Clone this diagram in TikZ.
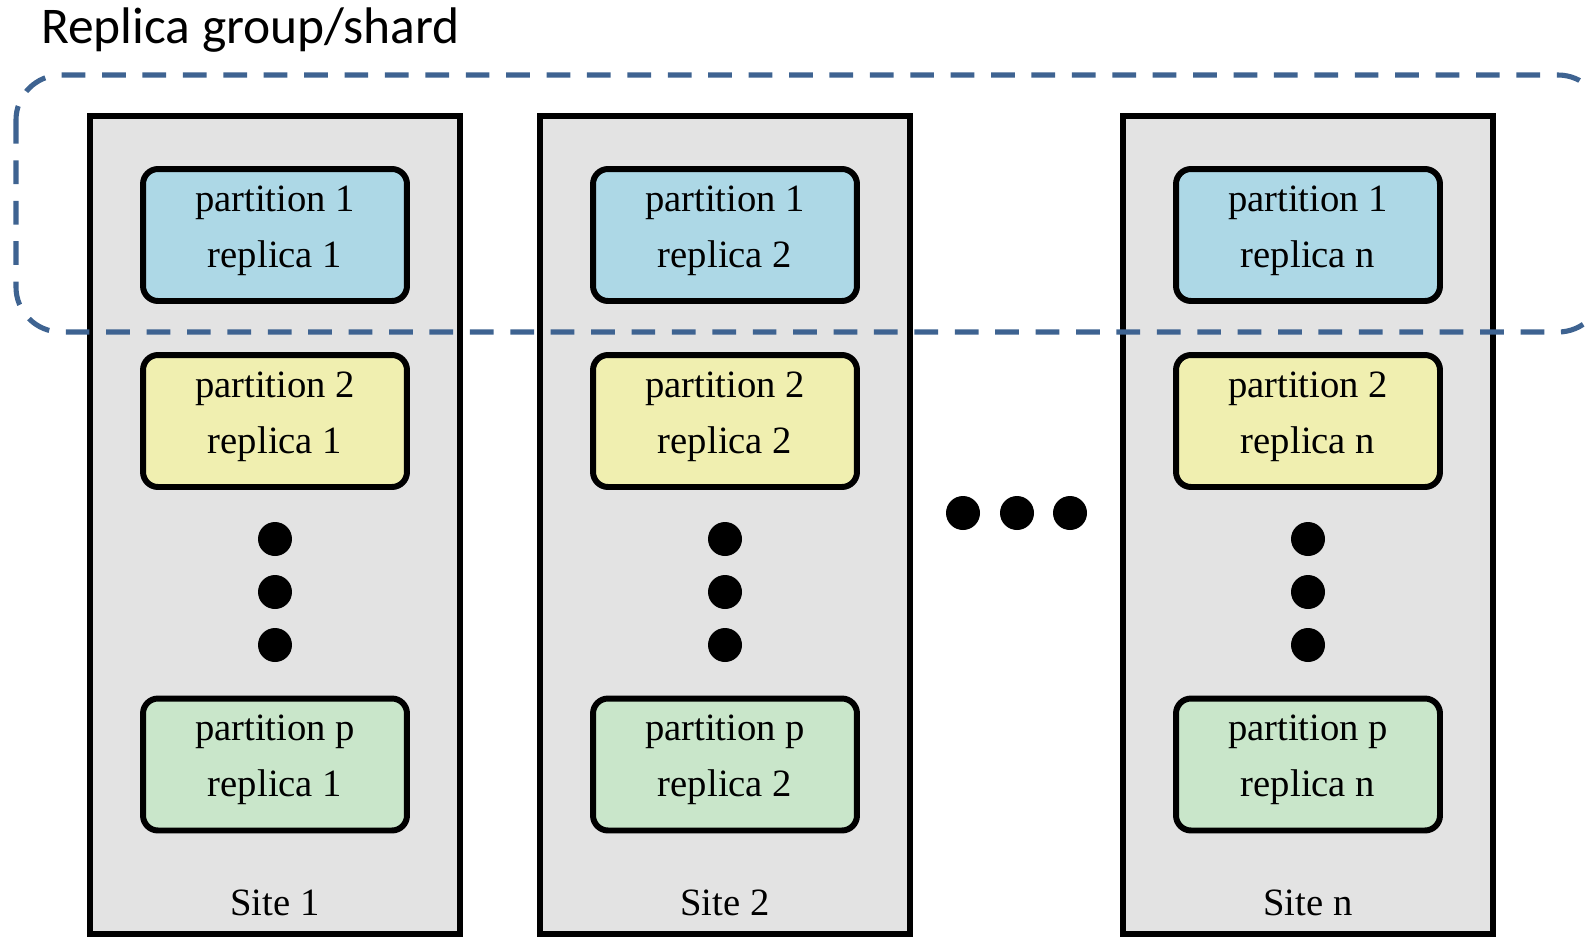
\documentclass[tikz,border=0pt]{standalone}
\usepackage{fontspec}
\newfontfamily\boxfont{Liberation Serif}
\newfontfamily\titlefont{Carlito}
\usetikzlibrary{positioning}

\definecolor{sitegray}{HTML}{E3E3E3}
\definecolor{partblue}{HTML}{ADD8E6}
\definecolor{partyellow}{HTML}{F0EFB0}
\definecolor{partgreen}{HTML}{C9E6CA}
\definecolor{shardblue}{HTML}{3E6391}

\begin{document}
\begin{tikzpicture}[x=0.02cm, y=-0.02cm,
    site/.style={draw, line width=3.4pt, fill=sitegray, minimum width=7.4cm, minimum height=16.36cm, inner sep=0pt},
    part/.style={draw, line width=3.4pt, rounded corners=0.3cm, minimum width=5.28cm, minimum height=2.64cm,
        inner sep=0pt, align=center, font=\boxfont\fontsize{22}{31.75}\selectfont, text depth=9.6pt},
    dot/.style={circle, fill=black, minimum size=0.68cm, inner sep=0pt},
    sitelabel/.style={anchor=base, font=\boxfont\fontsize{22}{26}\selectfont},
    shard/.style={draw=shardblue, line width=2.9pt, dash pattern=on 13.5pt off 9.5pt, rounded corners=0.9cm}]
    \useasboundingbox (0,0) rectangle (1589,937);

    % Title
    \node[anchor=base west, font=\titlefont\fontsize{29.3}{35}\selectfont] (title) at (35,43) {Replica group/shard};

    % Sites
    \node[site] (s1) at (275,525) {};
    \node[site] (s2) at (725,525) {};
    \node[site] (sn) at (1308,525) {};

    % Site 1
    \node[part, fill=partblue] (p11) at (275,235) {partition 1\\replica 1};
    \node[part, fill=partyellow] (p21) at (275,421) {partition 2\\replica 1};
    \node[dot] (d11) at (275,539) {};
    \node[dot] (d21) at (275,592) {};
    \node[dot] (d31) at (275,645) {};
    \node[part, fill=partgreen] (pp1) at (275,764.5) {partition p\\replica 1};
    \node[sitelabel] (l1) at (275,915) {Site 1};

    % Site 2
    \node[part, fill=partblue] (p12) at (725,235) {partition 1\\replica 2};
    \node[part, fill=partyellow] (p22) at (725,421) {partition 2\\replica 2};
    \node[dot] (d12) at (725,539) {};
    \node[dot] (d22) at (725,592) {};
    \node[dot] (d32) at (725,645) {};
    \node[part, fill=partgreen] (pp2) at (725,764.5) {partition p\\replica 2};
    \node[sitelabel] (l2) at (725,915) {Site 2};

    % Site n
    \node[part, fill=partblue] (p1n) at (1308,235) {partition 1\\replica n};
    \node[part, fill=partyellow] (p2n) at (1308,421) {partition 2\\replica n};
    \node[dot] (d1n) at (1308,539) {};
    \node[dot] (d2n) at (1308,592) {};
    \node[dot] (d3n) at (1308,645) {};
    \node[part, fill=partgreen] (ppn) at (1308,764.5) {partition p\\replica n};
    \node[sitelabel] (ln) at (1308,915) {Site n};

    % Dots between sites
    \node[dot] (h1) at (963,513) {};
    \node[dot] (h2) at (1017,513) {};
    \node[dot] (h3) at (1070,513) {};

    % Replica group
    \draw[shard] (16,75) rectangle (1603,332);
\end{tikzpicture}
\end{document}
